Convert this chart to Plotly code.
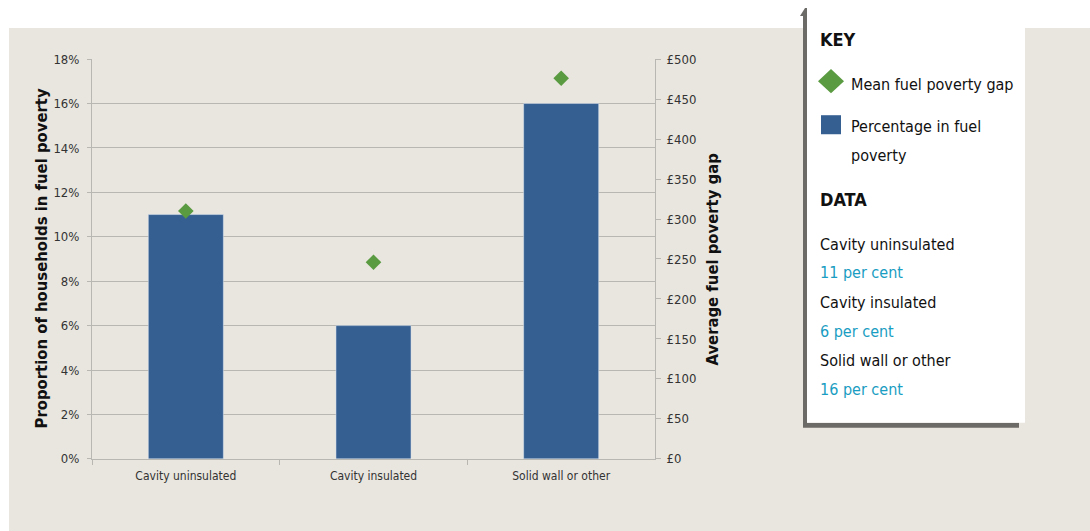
import plotly.graph_objects as go

categories = ["Cavity uninsulated", "Cavity insulated", "Solid wall or other"]
pct_in_poverty = [11, 6, 16]
mean_gap = [310, 246, 476]
data_values = ["11 per cent", "6 per cent", "16 per cent"]

W, H = 1090, 531
# observed rendering: figure drawn into a 515px-high region starting 8px from top
def px(x): return x / W
def py(y): return 1 - (y - 8) / 515

FONT = "DejaVu Sans Condensed, Roboto, sans-serif"
BG = "#e9e6df"
BAR = "#355f91"
GREEN = "#5a9a41"
TEAL = "#1a9dc2"
GRID = "#b9b7b2"
TICKC = "#333333"

fig = go.Figure()
fig.add_trace(go.Bar(x=categories, y=pct_in_poverty, marker_color=BAR, width=0.4,
                     name="Percentage in fuel poverty", yaxis="y"))
fig.add_trace(go.Scatter(x=categories, y=mean_gap, mode="markers", yaxis="y2",
                         marker=dict(symbol="diamond", size=12, color=GREEN),
                         name="Mean fuel poverty gap"))

shapes = [
    dict(type="rect", xref="paper", yref="paper", x0=px(9), x1=1, y0=-0.05, y1=py(29),
         fillcolor=BG, line_width=0, layer="below"),
    dict(type="path", xref="paper", yref="paper",
         path=f"M {px(800)} {py(17)} L {px(805)} {py(9)} L {px(807)} {py(9)} L {px(807)} {py(423)} L {px(1019)} {py(423)} L {px(1019)} {py(428)} L {px(803)} {py(428)} L {px(803)} {py(17)} Z",
         fillcolor="#6d6b68", line_width=0, layer="above"),
    dict(type="rect", xref="paper", yref="paper", x0=px(807), x1=px(1025), y0=py(423), y1=py(9),
         fillcolor="white", line_width=0, layer="above"),
    dict(type="path", xref="paper", yref="paper",
         path=f"M {px(818)} {py(82)} L {px(831)} {py(70)} L {px(844)} {py(82)} L {px(831)} {py(94)} Z",
         fillcolor=GREEN, line_width=0, layer="above"),
    dict(type="rect", xref="paper", yref="paper", x0=px(821), x1=px(841), y0=py(135), y1=py(116),
         fillcolor=BAR, line_width=0, layer="above"),
]

annotations = [
    dict(text="<b>Proportion of households in fuel poverty</b>", x=px(41), y=py(259), textangle=-90,
         xanchor="center", yanchor="middle",
         font=dict(family=FONT, size=16.5, color="#111"), showarrow=False, xref="paper", yref="paper"),
    dict(text="<b>Average fuel poverty gap</b>", x=px(712), y=py(260), textangle=-90,
         xanchor="center", yanchor="middle",
         font=dict(family=FONT, size=16.5, color="#111"), showarrow=False, xref="paper", yref="paper"),
]

def txt(s, x, y, size=16, color="#111", bold=False):
    annotations.append(dict(text=f"<b>{s}</b>" if bold else s, x=px(x), y=py(y), xanchor="left",
                            yanchor="middle", showarrow=False, xref="paper", yref="paper",
                            font=dict(family=FONT, size=size, color=color)))

txt("KEY", 818, 40, size=18, bold=True)
txt("Mean fuel poverty gap", 849, 85)
txt("Percentage in fuel", 849, 127)
txt("poverty", 849, 156)
txt("DATA", 818, 200, size=18, bold=True)
ys = [(245, 273), (303, 332), (361, 390)]
for cat, val, (y1, y2) in zip(categories, data_values, ys):
    txt(cat, 818, y1)
    txt(val, 818, y2, color=TEAL)

fig.update_layout(
    width=W, height=H,
    margin=dict(l=0, r=0, t=0, b=0),
    paper_bgcolor="white",
    plot_bgcolor=BG,
    showlegend=False,
    xaxis=dict(domain=[px(92), px(655)], showline=True, linecolor=GRID, linewidth=1,
               ticks="outside", tickson="boundaries", ticklen=5, tickcolor=GRID,
               ticklabelstandoff=6,
               tickfont=dict(family=FONT, size=12, color=TICKC)),
    yaxis=dict(domain=[py(459), py(60)], range=[0, 18], dtick=2, ticksuffix="%",
               showgrid=True, gridcolor=GRID, gridwidth=1, zeroline=False,
               showline=True, linecolor=GRID, ticks="outside", ticklen=4, tickcolor=GRID,
               ticklabelstandoff=5,
               tickfont=dict(family=FONT, size=13, color=TICKC)),
    yaxis2=dict(overlaying="y", side="right", range=[0, 500], dtick=50, tickprefix="£",
                showgrid=False, zeroline=False, showline=True, linecolor=GRID,
                ticks="outside", ticklen=5, tickcolor=GRID, ticklabelstandoff=3,
                tickfont=dict(family=FONT, size=13, color=TICKC)),
    shapes=shapes,
    annotations=annotations,
)

fig.write_html("out.html", config={"responsive": False, "displayModeBar": False},
               post_script="document.body.style.margin='0';document.body.style.overflow='hidden';")
